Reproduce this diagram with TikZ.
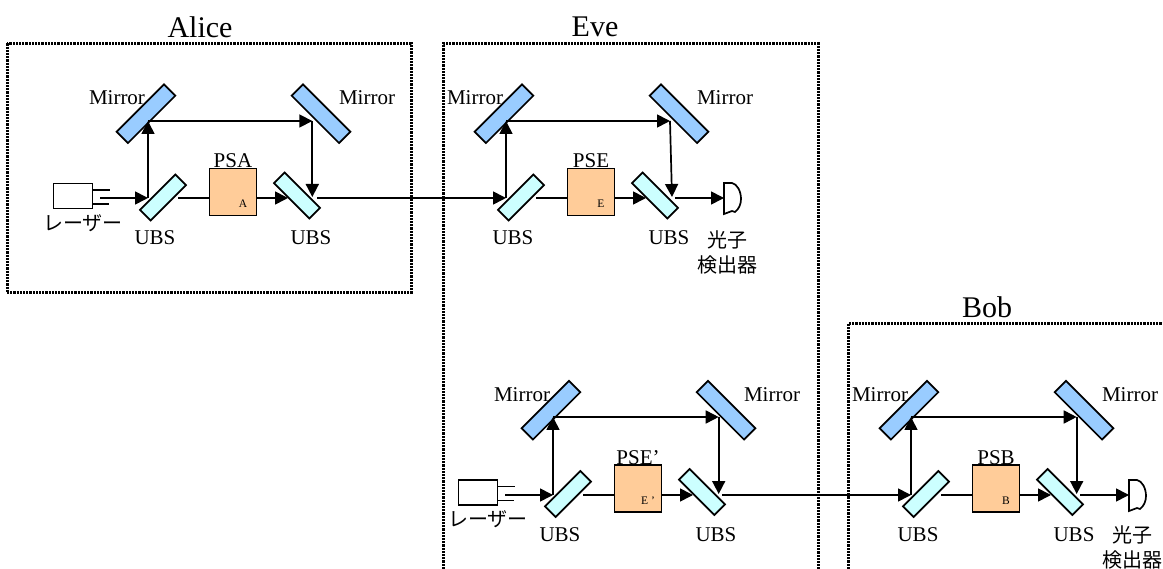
\documentclass[tikz,border=0pt]{standalone}
\usepackage{fontspec}
\setmainfont{Liberation Serif}
\newfontfamily\jpfont{Noto Sans CJK JP}
\usetikzlibrary{arrows.meta}
\tikzset{
  every node/.style={inner sep=0pt,outer sep=0pt},
  mirrorbox/.style={draw=black,line width=1.7pt,fill=mirrorblue,minimum width=67pt,minimum height=16pt},
  ubsbox/.style={draw=black,line width=1.7pt,fill=ubscyan,minimum width=50pt,minimum height=15pt},
  psbox/.style={draw=black,line width=1.7pt,fill=psorange,minimum width=47pt,minimum height=47pt},
  laserbox/.style={draw=black,line width=1.7pt,fill=white,minimum width=39pt,minimum height=25pt},
  label/.style={font=\fontsize{21}{24}\selectfont},
  title/.style={font=\fontsize{30}{34}\selectfont},
  tiny/.style={font=\fontsize{11.5}{13}\selectfont},
  jp/.style={font=\jpfont\fontsize{20}{24}\selectfont},
  frame/.style={draw=black,line width=3pt,dash pattern=on 2.2pt off 1pt},
  beam/.style={draw=black,line width=1.7pt},
  ray/.style={beam,-{Triangle[length=13pt,width=13pt]}},
  wire/.style={draw=black,line width=1.7pt}
}
\definecolor{mirrorblue}{HTML}{99CCFF}
\definecolor{ubscyan}{HTML}{CCFFFF}
\definecolor{psorange}{HTML}{FFCC99}
% #1 prefix, #2 dx, #3 dy, #4 PS label, #5 small label, #6 top x, #7 bottom x, #8 top beam y, #9 main beam y
\newcommand{\opticsmodule}[9]{
  \begin{scope}[shift={(#2,#3)}]
    \node[mirrorbox,rotate=45] (#1m1) at (146,113.7) {};
    \node[mirrorbox,rotate=-45] (#1m2) at (321,113.7) {};
    \node[ubsbox,rotate=45] (#1u1) at (163,197.5) {};
    \node[ubsbox,rotate=-45] (#1u2) at (297,195.5) {};
    \node[psbox] (#1ps) at (233,192) {};
    \node[label] (#1lm1) at (117,98) {Mirror};
    \node[label] (#1lm2) at (367,98) {Mirror};
    \node[label] (#1lu1) at (155,238) {UBS};
    \node[label] (#1lu2) at (311,238) {UBS};
    \node[label] (#1lps) at (233,161) {#4};
    \node[tiny] (#1lsm) at (243,204) {#5};
    \coordinate (#1in) at (148,#9);
    \coordinate (#1up) at (148,#8);
    \coordinate (#1top) at (#6,#8);
    \coordinate (#1bot) at (#7,#9-1);
    \coordinate (#1ua) at (178,#9);
    \coordinate (#1ub) at (288,#9);
    \coordinate (#1out) at (317,#9);
    \draw[ray] (#1in) -- (#1up);
    \draw[ray] (#1up) -- (#1top);
    \draw[ray] (#1top) -- (#1bot);
    \draw[beam] (#1ua) -- (#1ps.west |- #1ua);
    \draw[ray] (#1ps.east |- #1ub) -- (#1ub);
  \end{scope}
}
% #1 prefix, #2 dx, #3 dy, #4 main beam y
\newcommand{\lasersource}[4]{
  \begin{scope}[shift={(#2,#3)}]
    \node[laserbox] (#1las) at (73,196) {};
    \node[jp] (#1lbl) at (83,223) {レーザー};
    \coordinate (#1pa) at (#1las.east |- 0,190);
    \coordinate (#1pb) at (#1las.east |- 0,204);
    \coordinate (#1pc) at (110,190);
    \coordinate (#1pd) at (109,204);
    \coordinate (#1ps0) at (100,#4);
    \draw[wire] (#1pa) -- (#1pc);
    \draw[wire] (#1pb) -- (#1pd);
  \end{scope}
}
% #1 prefix, #2 left x, #3 top y, #4 label x, #5 label y
\newcommand{\photondet}[5]{
  \begin{scope}[shift={(#2,#3)}]
    \coordinate (#1det) at (0,15);
    \draw[wire,fill=white] (0,0) -- (8,0) .. controls (13,1) and (17,8) .. (17,16)
       .. controls (17,21) and (15,26) .. (11,29) .. controls (10,29) and (9,28) .. (8,28)
       -- (0,31) -- cycle;
  \end{scope}
  \node[jp,align=center,font=\jpfont\fontsize{20}{25}\selectfont] (#1lbl) at (#4,#5) {光子\\検出器};
}
\begin{document}
\begin{tikzpicture}[x=1pt,y=-1pt]
  \useasboundingbox (0,0) rectangle (1163,569);
  \fill[white] (0,0) rectangle (1163,569);
  % boxes
  \draw[frame] (7,43.5) rectangle (411,293);
  \draw[frame] (443.5,569) -- (443.5,43.5) -- (818,43.5) -- (818,569);
  \draw[frame] (848,569) -- (848,323.5) -- (1165,323.5);
  \node[title] (alice) at (200,27) {Alice};
  \node[title] (eve) at (595,27) {Eve};
  \node[title] (bob) at (987,307) {Bob};
  % modules
  \opticsmodule{a}{0}{0}{PSA}{A}{312.3}{312.3}{121}{198}
  \opticsmodule{e}{358}{0}{PSE}{E}{312}{314}{121}{198}
  \opticsmodule{f}{405}{296.5}{PSE'}{E '}{313.7}{313.7}{120.5}{198.5}
  \opticsmodule{b}{763}{296.5}{PSB}{B}{313.7}{313.7}{120.5}{198.5}
  \lasersource{a}{0}{0}{198}
  \lasersource{f}{405}{296.5}{198.5}
  \photondet{e}{724}{183}{727}{252.5}
  \photondet{b}{1129}{480}{1132}{547.5}
  % beams between parts
  \draw[ray] (aps0) -- (ain);
  \draw[ray] (fps0) -- (fin);
  \draw[ray] (aout) -- (ein);
  \draw[ray] (fout) -- (bin);
  \draw[ray] (eout) -- (edet);
  \draw[ray] (bout) -- (bdet);
\end{tikzpicture}
\end{document}
